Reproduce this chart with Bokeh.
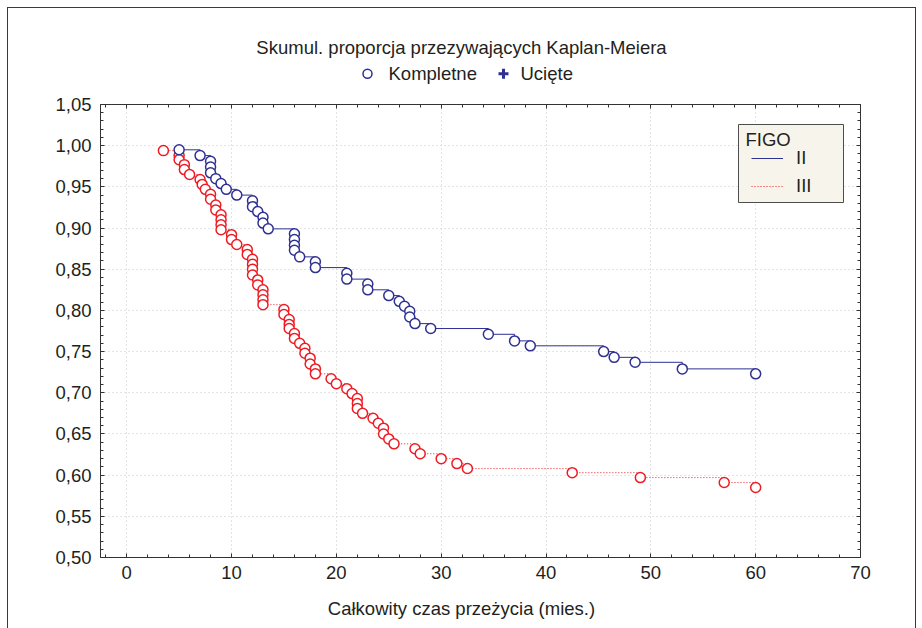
from bokeh.plotting import figure
from bokeh.layouts import column
from bokeh.models import (Label, Legend, LegendItem, BoxAnnotation, LinearAxis,
                          SingleIntervalTicker, CustomJSTickFormatter, Range1d)
from bokeh.core.properties import value
from bokeh.embed import file_html
from bokeh.resources import INLINE

# Kaplan-Meier cumulative survival by FIGO stage: one entry per observed death
time_II = [5, 7, 8, 8, 8, 8.5, 9, 9.5, 10.5, 12, 12, 12.5, 13, 13, 13.5,
           16, 16, 16, 16, 16.5, 18, 18, 21, 21, 23, 23, 25, 26, 26.5, 27, 27,
           27.5, 29, 34.5, 37, 38.5, 45.5, 46.5, 48.5, 53, 60]
surv_II = [0.995, 0.988, 0.981, 0.974, 0.967, 0.960, 0.954, 0.947, 0.940, 0.933,
           0.926, 0.920, 0.913, 0.906, 0.899, 0.893, 0.886, 0.879, 0.873, 0.865,
           0.859, 0.852, 0.845, 0.838, 0.832, 0.825, 0.818, 0.811, 0.805, 0.799,
           0.792, 0.784, 0.778, 0.771, 0.763, 0.757, 0.750, 0.743, 0.737, 0.729,
           0.723]

time_III = [3.5, 5, 5, 5.5, 5.5, 6, 7, 7.2, 7.5, 8, 8, 8.5, 8.5, 9, 9, 9, 9,
            10, 10, 10.5, 11.5, 11.5, 12, 12, 12, 12, 12.5, 12.5, 13, 13, 13, 13,
            15, 15, 15.5, 15.5, 15.5, 16, 16, 16.5, 17, 17, 17.5, 17.5, 18, 18,
            19.5, 20, 21, 21.5, 22, 22, 22, 22.5, 23.5, 24, 24.5, 24.5, 25, 25.5,
            27.5, 28, 30, 31.5, 32.5, 42.5, 49, 57, 60]
surv_III = [0.994, 0.988, 0.983, 0.977, 0.971, 0.965, 0.959, 0.953, 0.947, 0.941,
            0.935, 0.928, 0.922, 0.916, 0.910, 0.904, 0.898, 0.892, 0.886, 0.880,
            0.874, 0.868, 0.862, 0.856, 0.850, 0.843, 0.837, 0.831, 0.825, 0.819,
            0.813, 0.807, 0.801, 0.795, 0.789, 0.783, 0.778, 0.772, 0.766, 0.760,
            0.754, 0.748, 0.742, 0.735, 0.729, 0.723, 0.717, 0.711, 0.705, 0.699,
            0.693, 0.687, 0.681, 0.675, 0.669, 0.663, 0.657, 0.650, 0.644, 0.638,
            0.632, 0.626, 0.620, 0.614, 0.608, 0.603, 0.597, 0.591, 0.585]

title_text = "Skumul. proporcja przezywających Kaplan-Meiera"
x_title = "Całkowity czas przeżycia (mies.)"
legend_title = "FIGO"
group_labels = ["II", "III"]
marker_labels = ["Kompletne", "Ucięte"]

BLUE = "#2e3192"
RED = "#ed1c24"
INK = "#231f20"
AXIS = "#333333"
FONT = "Liberation Sans"
FS = "18.5px"

W, H = 922, 628
HEAD_H = 90                                  # header strip (title + marker key)
FOOT_H = 38                                  # footer strip (x-axis title)
MAIN_H = H - HEAD_H - FOOT_H
FL, FR, FT, FB = 100, 860, 104, 557          # plot frame edges on the page
X0, X1 = -2.5, 70
Y0, Y1 = 0.50, 1.05


def dx(px):
    return X0 + (px - FL) * (X1 - X0) / (FR - FL)


def dy(py):
    return Y0 + (FB - py) * (Y1 - Y0) / (FB - FT)


def strip(height, top):
    """A bare figure whose data space is page pixels (y grows downward).
    The column lines its frame up with the chart frame, so x spans FL..FR."""
    f = figure(width=W, height=height, x_range=Range1d(FL, FR),
               y_range=Range1d(top + height, top), output_backend="svg",
               toolbar_location=None, tools="", min_border=0,
               border_fill_color=None, background_fill_color=None,
               outline_line_color=None)
    f.axis.visible = False
    f.grid.visible = False
    return f


# ---- header: title and the complete / censored marker key
head = strip(HEAD_H, 0)
head.text(x=[461], y=[46.7], text=[title_text], text_font=value(FONT),
          text_font_size=value(FS), text_color=INK, text_align="center",
          text_baseline="middle")
head.scatter(x=[367], y=[73.3], marker="circle", size=9, line_color=BLUE,
             line_width=1.5, fill_color=None)
head.scatter(x=[503], y=[73.3], marker="cross", size=10, line_color=BLUE,
             line_width=3)
head.text(x=[388, 520], y=[73.3, 73.3], text=marker_labels, text_font=value(FONT),
          text_font_size=value(FS), text_color=INK, text_align="left",
          text_baseline="middle")

# ---- main chart
p = figure(width=W, height=MAIN_H, x_range=Range1d(X0, X1), y_range=Range1d(Y0, Y1),
           output_backend="svg", toolbar_location=None, tools="",
           min_border_left=FL, min_border_right=W - FR,
           min_border_top=FT - HEAD_H, min_border_bottom=HEAD_H + MAIN_H - FB,
           border_fill_color=None, background_fill_color="white",
           outline_line_color=None)

xt = SingleIntervalTicker(interval=10, num_minor_ticks=5)
yt = SingleIntervalTicker(interval=0.05, num_minor_ticks=5)


def style_axis(ax):
    ax.axis_line_color = AXIS
    ax.major_tick_line_color = AXIS
    ax.minor_tick_line_color = AXIS
    ax.major_tick_in = 4
    ax.major_tick_out = 0
    ax.minor_tick_in = 3
    ax.minor_tick_out = 0
    ax.major_label_text_font = FONT
    ax.major_label_text_font_size = FS
    ax.major_label_text_color = INK


xa = p.xaxis[0]
ya = p.yaxis[0]
xa.ticker = xt
ya.ticker = yt
xa.formatter = CustomJSTickFormatter(code="return tick.toFixed(0);")
ya.formatter = CustomJSTickFormatter(code="return tick.toFixed(2).replace('.', ',');")
style_axis(xa)
style_axis(ya)
xa.major_label_standoff = 8
ya.major_label_standoff = 9

# tick marks on the top and right edges of the frame, without labels
blank = CustomJSTickFormatter(code="return '';")
top_ax = LinearAxis(ticker=xt, formatter=blank, major_label_standoff=0)
right_ax = LinearAxis(ticker=yt, formatter=blank, major_label_standoff=0)
for ax in (top_ax, right_ax):
    style_axis(ax)
    ax.major_label_text_font_size = "1px"
p.add_layout(top_ax, "above")
p.add_layout(right_ax, "right")

for g in (p.xgrid[0], p.ygrid[0]):
    g.grid_line_color = "#c9c9c9"
    g.grid_line_dash = "1 3"
    g.grid_line_width = 1

# survival step curves with a circle at every death
red_line = p.step(time_III, surv_III, mode="after", line_color=RED,
                  line_width=1, line_dash="1 2")
p.scatter(time_III, surv_III, marker="circle", size=10, line_color=RED,
          line_width=1.5, fill_color="white")
blue_line = p.step(time_II, surv_II, mode="after", line_color=BLUE, line_width=1)
p.scatter(time_II, surv_II, marker="circle", size=10, line_color=BLUE,
          line_width=1.5, fill_color="white")

# FIGO legend box
p.add_layout(BoxAnnotation(left=dx(738), right=dx(843), top=dy(124), bottom=dy(202),
                           fill_color="#f7f4ec", fill_alpha=1,
                           line_color="#4d4d4d", line_width=1, line_alpha=1))
p.add_layout(Label(x=dx(745), y=dy(138.5), text=legend_title, text_font=FONT,
                   text_font_size=FS, text_color=INK, text_baseline="middle",
                   text_align="left"))
figo = Legend(items=[LegendItem(label=group_labels[0], renderers=[blue_line]),
                     LegendItem(label=group_labels[1], renderers=[red_line])],
              location=(651, 360), glyph_width=32, glyph_height=22,
              label_height=22, label_standoff=13, spacing=6, padding=0, margin=0,
              border_line_color=None, background_fill_alpha=0,
              label_text_font=FONT, label_text_font_size=FS,
              label_text_color=INK)
p.add_layout(figo)

# ---- footer: x-axis title centred on the page
foot = strip(FOOT_H, HEAD_H + MAIN_H)
foot.text(x=[461], y=[608], text=[x_title], text_font=value(FONT),
          text_font_size=value(FS), text_color=INK, text_align="center",
          text_baseline="middle")

# thin page frame around the whole chart
page = column(head, p, foot, spacing=0, styles={
    "background-image": "linear-gradient(#3a3a3a,#3a3a3a), linear-gradient(#3a3a3a,#3a3a3a), linear-gradient(#3a3a3a,#3a3a3a)",
    "background-size": "1px 100%, 909px 1px, 1px 100%",
    "background-position": "7px 7px, 7px 7px, 915px 7px",
    "background-repeat": "no-repeat",
})

open("out.html", "w").write(file_html(page, INLINE))
